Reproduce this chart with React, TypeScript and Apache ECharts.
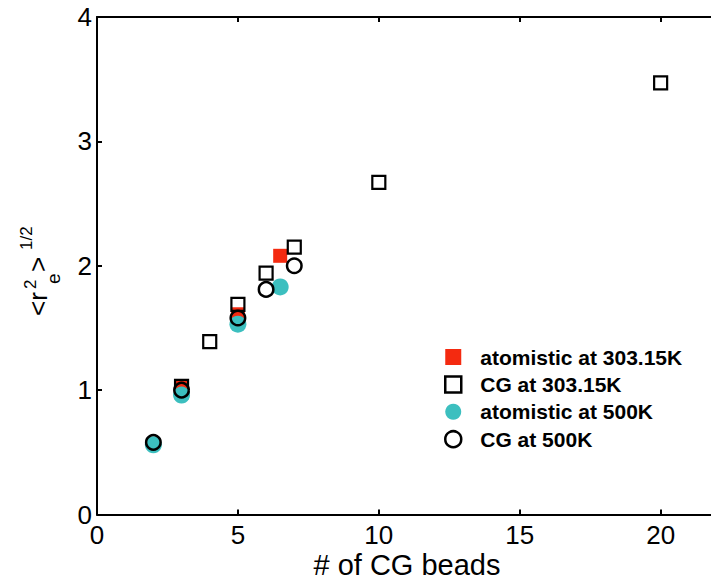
import React, { useEffect, useRef } from "react";
import * as echarts from "echarts";

const FONT = "'Liberation Sans', Arial, Helvetica, sans-serif";
const RED = "#f42a10";
const CYAN = "#3cbfbf";

const seriesNames = [
  "atomistic at 303.15K",
  "CG at 303.15K",
  "atomistic at 500K",
  "CG at 500K",
];

// atomistic at 303.15K
const at303X = [3, 5, 6.5];
const at303Y = [1.02, 1.61, 2.08];
// CG at 303.15K
const cg303X = [3, 4, 5, 6, 7, 10, 20];
const cg303Y = [1.03, 1.39, 1.69, 1.94, 2.15, 2.67, 3.47];
// atomistic at 500K
const at500X = [2, 3, 5, 6.5];
const at500Y = [0.56, 0.96, 1.53, 1.83];
// CG at 500K
const cg500X = [2, 3, 5, 6, 7];
const cg500Y = [0.58, 1.0, 1.58, 1.81, 2.0];

const xMin = 0;
const xMax = 22;
const xStep = 5;
const yMin = 0;
const yMax = 4;
const yStep = 1;

const xTitle = "# of CG beads";

const zip = (xs: number[], ys: number[]) => xs.map((x, i) => [x, ys[i]]);

export default function App() {
  const ref = useRef<HTMLDivElement>(null);
  useEffect(() => {
    if (!ref.current) return;
    const chart = echarts.init(ref.current, undefined, { renderer: "svg" });
    const axisLine = { show: true, lineStyle: { color: "#000", width: 2 } };
    const tick = { show: true, inside: true, length: 5, lineStyle: { color: "#000", width: 2 } };
    chart.setOption({
      animation: false,
      backgroundColor: "#fff",
      grid: {
        left: 97,
        top: 17,
        width: 620,
        height: 497.5,
        containLabel: false,
        outerBoundsMode: "none",
      },
      xAxis: [
        {
          type: "value",
          min: xMin,
          max: xMax,
          interval: xStep,
          axisLine,
          axisTick: tick,
          splitLine: { show: false },
          axisLabel: {
            fontFamily: FONT,
            fontSize: 26,
            lineHeight: 20,
            color: "#000",
            margin: 10.5,
            showMaxLabel: false,
          },
          name: xTitle,
          nameLocation: "middle",
          nameGap: 50,
          nameMoveOverlap: false,
          nameTextStyle: {
            fontFamily: FONT,
            fontSize: 29,
            lineHeight: 22,
            color: "#000",
            verticalAlign: "middle",
          },
        },
        {
          type: "value",
          position: "top",
          min: xMin,
          max: xMax,
          interval: xStep,
          axisLine,
          axisTick: tick,
          splitLine: { show: false },
          axisLabel: { show: false },
        },
      ],
      yAxis: [
        {
          type: "value",
          min: yMin,
          max: yMax,
          interval: yStep,
          axisLine,
          axisTick: tick,
          splitLine: { show: false },
          axisLabel: { fontFamily: FONT, fontSize: 26, color: "#000", margin: 5 },
        },
      ],
      legend: {
        orient: "vertical",
        left: 444,
        top: 346.5,
        padding: 0,
        itemWidth: 16,
        itemHeight: 16,
        itemGap: 6.4,
        textStyle: {
          fontFamily: FONT,
          fontWeight: "bold",
          fontSize: 21,
          color: "#000",
          padding: [0, 0, 0, 14],
        },
        data: [
          { name: seriesNames[0], icon: "rect", itemStyle: { color: RED, borderWidth: 0 } },
          {
            name: seriesNames[1],
            icon: "rect",
            itemStyle: { color: "transparent", borderColor: "#000", borderWidth: 2.5 },
          },
          { name: seriesNames[2], icon: "circle", itemStyle: { color: CYAN, borderWidth: 0 } },
          {
            name: seriesNames[3],
            icon: "circle",
            itemStyle: { color: "transparent", borderColor: "#000", borderWidth: 2.5 },
          },
        ],
      },
      series: [
        {
          name: seriesNames[0],
          type: "scatter",
          symbol: "rect",
          symbolSize: 14,
          data: zip(at303X, at303Y),
          itemStyle: { color: RED, opacity: 1 },
        },
        {
          name: seriesNames[1],
          type: "scatter",
          symbol: "rect",
          symbolSize: 13,
          data: zip(cg303X, cg303Y),
          itemStyle: { color: "transparent", borderColor: "#000", borderWidth: 2.2, opacity: 1 },
        },
        {
          name: seriesNames[2],
          type: "scatter",
          symbol: "circle",
          symbolSize: 17,
          data: zip(at500X, at500Y),
          itemStyle: { color: CYAN, opacity: 1 },
        },
        {
          name: seriesNames[3],
          type: "scatter",
          symbol: "circle",
          symbolSize: 14.5,
          data: zip(cg500X, cg500Y),
          itemStyle: { color: "transparent", borderColor: "#000", borderWidth: 2.5, opacity: 1 },
        },
      ],
      graphic: [
        {
          type: "group",
          x: 47,
          y: 316,
          rotation: Math.PI / 2,
          silent: true,
          children: [
            {
              type: "text",
              x: 0,
              y: -9,
              style: { text: "<r", fontFamily: FONT, fontSize: 26, fill: "#000", align: "left", verticalAlign: "middle" },
            },
            {
              type: "text",
              x: 27,
              y: -17,
              style: { text: "2", fontFamily: FONT, fontSize: 17, fill: "#000", align: "left", verticalAlign: "middle" },
            },
            {
              type: "text",
              x: 32,
              y: 6,
              style: { text: "e", fontFamily: FONT, fontSize: 19, fill: "#000", align: "left", verticalAlign: "middle" },
            },
            {
              type: "text",
              x: 44,
              y: -9,
              style: { text: ">", fontFamily: FONT, fontSize: 26, fill: "#000", align: "left", verticalAlign: "middle" },
            },
            {
              type: "text",
              x: 66,
              y: -21,
              style: { text: "1/2", fontFamily: FONT, fontSize: 17, fill: "#000", align: "left", verticalAlign: "middle" },
            },
          ],
        },
      ],
    });
    return () => chart.dispose();
  }, []);
  return (
    <div
      ref={ref}
      style={{ position: "fixed", left: 0, top: 0, width: 711, height: 581, background: "#fff" }}
    />
  );
}
